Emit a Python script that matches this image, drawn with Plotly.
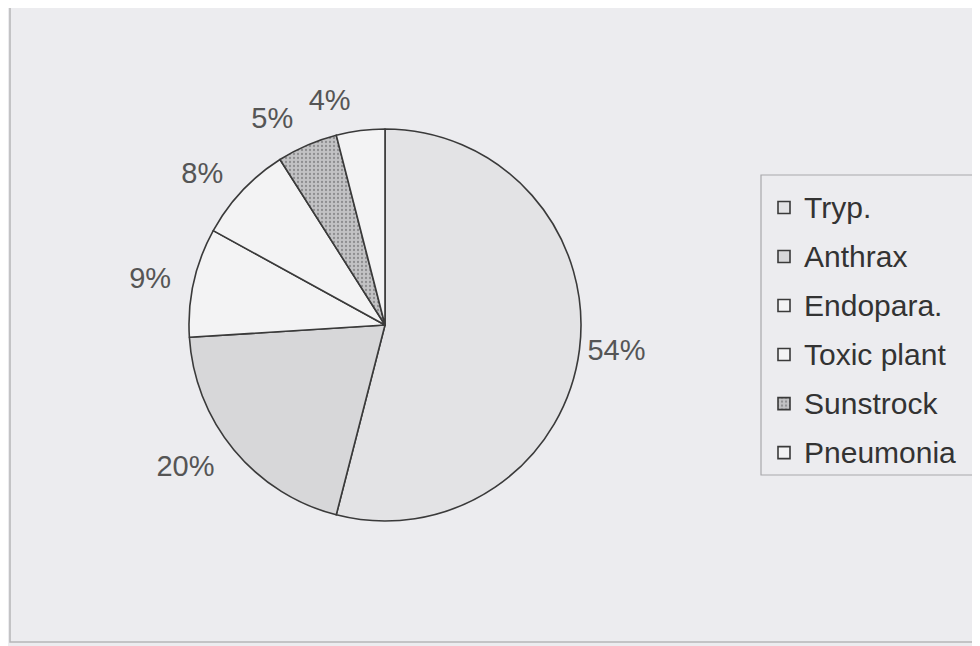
import plotly.graph_objects as go

categories = ["Tryp.", "Anthrax", "Endopara.", "Toxic plant", "Sunstrock", "Pneumonia"]
values = [54, 20, 9, 8, 5, 4]
fill_colors = ["#e3e3e5", "#d7d7d9", "#f3f3f4", "#f3f3f4", "#c2c2c4", "#f3f3f4"]
patterns = ["", "", "", "", ".", ""]

# which label is drawn by which layer (Excel puts the small-slice labels a bit further out)
label_layer = [0, 1, 1, 1, 1, 2]

# page has an 8px body margin; positions below are in reference pixels
OFF = 8
W, H = 980 - OFF, 646 - OFF


def px(x):
    return (x - OFF) / W


def py(y):
    return 1 - (y - OFF) / H


cx, cy, r = 385, 325, 196
r_lab = 211
FONT = "Liberation Sans, Arial, sans-serif"
label_font = dict(family=FONT, size=29, color="#555555")

legend_labels = [
    "<span style='font-size:30px;baseline-shift:3px'>%s</span>" % c for c in categories
]


def dom(rad):
    return dict(x=[px(cx - rad), px(cx + rad)], y=[py(cy + rad), py(cy - rad)])


def positions(layer):
    return ["outside" if l == layer else "none" for l in label_layer]


fig = go.Figure()

# visible pie
fig.add_trace(go.Pie(
    labels=legend_labels,
    values=values,
    sort=False,
    direction="clockwise",
    rotation=0,
    textinfo="percent",
    texttemplate="%{percent:.0%}",
    textposition=positions(0),
    outsidetextfont=label_font,
    marker=dict(
        colors=fill_colors,
        line=dict(color="#3a3a3a", width=1.6),
        pattern=dict(shape=patterns, fgcolor="#8e8e90", bgcolor=fill_colors, size=4, solidity=0.25),
    ),
    domain=dom(r),
    hoverinfo="percent",
))

# transparent label layers
for layer in (1, 2):
    fig.add_trace(go.Pie(
        labels=legend_labels,
        values=values,
        sort=False,
        direction="clockwise",
        rotation=0,
        textinfo="percent",
        texttemplate="%{percent:.0%}",
        textposition=positions(layer),
        outsidetextfont=label_font,
        marker=dict(colors=["rgba(0,0,0,0)"] * len(values), line=dict(width=0)),
        domain=dom(r_lab),
        showlegend=False,
        hoverinfo="skip",
    ))

fig.update_layout(
    width=W, height=H,
    margin=dict(l=0, r=0, t=0, b=0),
    paper_bgcolor="#ececef",
    plot_bgcolor="#ececef",
    showlegend=True,
    legend=dict(
        x=px(764), xanchor="left",
        y=py(178), yanchor="top",
        bgcolor="rgba(0,0,0,0)",
        borderwidth=0,
        font=dict(family=FONT, size=35.4, color="#333333"),
        traceorder="normal",
    ),
    shapes=[
        dict(type="rect", xref="paper", yref="paper",
             x0=px(10), x1=1.05, y0=py(642), y1=py(4),
             line=dict(color="#b5b5b8", width=1.5), fillcolor="rgba(0,0,0,0)", layer="below"),
        dict(type="rect", xref="paper", yref="paper",
             x0=px(761), x1=px(978), y0=py(475), y1=py(175),
             line=dict(color="#a8a8ab", width=1.2), fillcolor="rgba(0,0,0,0)", layer="below"),
    ],
)

fig.write_html("out.html")
